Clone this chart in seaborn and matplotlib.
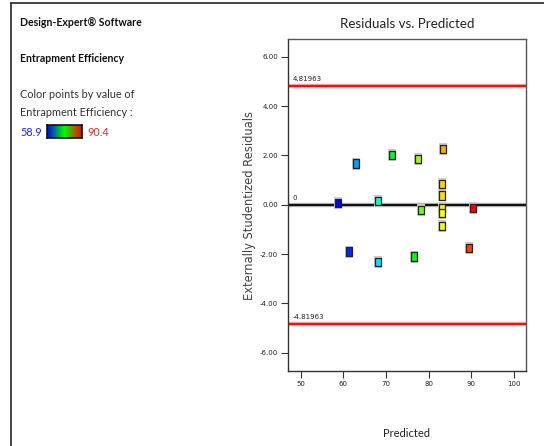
import numpy as np
import pandas as pd
import matplotlib
matplotlib.use("Agg")
import matplotlib.pyplot as plt
import matplotlib.colors as mcolors
from matplotlib.lines import Line2D
import seaborn as sns

# ---- data ----
predicted = [58.8, 61.3, 63.0, 68.1, 68.1, 71.5, 76.6, 77.6, 78.2, 83.3,
             83.1, 83.1, 83.1, 83.1, 83.1, 90.4, 89.4]
residuals = [0.08, -1.90, 1.67, 0.15, -2.32, 2.03, -2.10, 1.85, -0.20, 2.26,
             0.83, 0.38, -0.14, -0.34, -0.87, -0.12, -1.74]
actual = [59.0, 60.2, 63.8, 68.5, 66.0, 74.0, 74.5, 79.5, 78.0, 85.0,
          84.0, 83.6, 82.8, 82.6, 82.0, 90.4, 88.4]
limit_hi = 4.81963
limit_lo = -4.81963
color_min, color_max = 58.9, 90.4
x_ticks = [50, 60, 70, 80, 90, 100]
y_ticks = [-6, -4, -2, 0, 2, 4, 6]

df = pd.DataFrame({"Predicted": predicted, "Residual": residuals, "Actual": actual})

# points: blue -> cyan -> green -> yellow -> red (hue sweep)
hues = np.linspace(240 / 360, 0, 256)
rgb = mcolors.hsv_to_rgb(np.stack([hues, np.ones(256), np.ones(256)], axis=1))
cmap = mcolors.ListedColormap(rgb)
# legend bar: blue -> green -> red
bar_cmap = mcolors.LinearSegmentedColormap.from_list("bgr", ["#0000ff", "#00ff00", "#ff0000"])

sns.set_theme(style="white")
plt.rcParams["font.family"] = ["DejaVu Sans"]

fig = plt.figure(figsize=(5.44, 4.46), dpi=100)
ax = fig.add_axes([288 / 544, 75 / 446, 238 / 544, 332 / 446])

# limit lines and zero line
ax.axhline(limit_hi, color="#ffb0b0", lw=3.2, zorder=1)
ax.axhline(limit_hi, color="#ee1111", lw=1.6, zorder=2)
ax.axhline(limit_lo, color="#ffb0b0", lw=3.2, zorder=1)
ax.axhline(limit_lo, color="#ee1111", lw=1.6, zorder=2)
ax.axhline(0, color="#c0c0c0", lw=3.2, zorder=1)
ax.axhline(0, color="#111111", lw=1.6, zorder=2)

rect = [(-0.36, -0.5), (0.36, -0.5), (0.36, 0.5), (-0.36, 0.5), (-0.36, -0.5)]
# points with soft halo
sns.scatterplot(data=df, x="Predicted", y="Residual", color="#cccccc", marker=rect,
                s=70, linewidth=0, ax=ax, legend=False, zorder=3)
sns.scatterplot(data=df, x="Predicted", y="Residual", hue="Actual", palette=cmap,
                hue_norm=(color_min, color_max), marker=rect, s=36,
                edgecolor="#222222", linewidth=0.9, ax=ax, legend=False, zorder=4)

ax.set_xlim(47.0, 102.9)
ax.set_ylim(-6.74, 6.72)
ax.set_xticks(x_ticks)
ax.set_xticklabels([str(t) for t in x_ticks])
ax.set_yticks(y_ticks)
ax.set_yticklabels([f"{t:.2f}" for t in y_ticks])
ax.tick_params(axis="both", which="major", labelsize=5, length=5, width=0.8,
               color="#333333", pad=2, direction="out", left=True, bottom=True,
               labelcolor="#222222")
for s in ax.spines.values():
    s.set_color("#555555")
    s.set_linewidth(1.0)
ax.spines["left"].set_color("#333333")
ax.spines["bottom"].set_color("#333333")

ax.text(48.0, limit_hi + 0.15, "4.81963", fontsize=5, color="#222222", va="bottom")
ax.text(48.0, 0.15, "0", fontsize=5, color="#222222", va="bottom")
ax.text(48.0, limit_lo + 0.15, "-4.81963", fontsize=5, color="#222222", va="bottom")

ax.set_title("Residuals vs. Predicted", fontsize=9.6, family="Lato",
             color="#222222", pad=8)
ax.set_xlabel("Predicted", fontsize=8, family="Lato", color="#222222", labelpad=30)
ax.set_ylabel("Externally Studentized Residuals", fontsize=8.3, color="#444444",
              labelpad=3)

# left info panel
fig.text(20 / 544, 1 - 23 / 446, "Design-Expert\u00ae Software", fontsize=7.6,
         weight="bold", family="Lato", va="center", ha="left", color="#111111")
fig.text(20 / 544, 1 - 59 / 446, "Entrapment Efficiency", fontsize=7.6,
         weight="bold", family="Lato", va="center", ha="left", color="#111111")
fig.text(20 / 544, 1 - 94 / 446, "Color points by value of", fontsize=7.8,
         family="Lato", va="center", ha="left", color="#333333")
fig.text(20 / 544, 1 - 112 / 446, "Entrapment Efficiency :", fontsize=7.8,
         family="Lato", va="center", ha="left", color="#333333")
fig.text(42 / 544, 1 - 132 / 446, f"{color_min}", fontsize=7.8, family="Lato",
         va="center", ha="right", color="#2222ee")
fig.text(87 / 544, 1 - 132 / 446, f"{color_max}", fontsize=7.8, family="Lato",
         va="center", ha="left", color="#ee2222")
cax = fig.add_axes([47 / 544, 1 - 138 / 446, 35 / 544, 13 / 446])
cax.imshow(np.linspace(0, 1, 256)[None, :], aspect="auto", cmap=bar_cmap)
cax.set_xticks([])
cax.set_yticks([])
for s in cax.spines.values():
    s.set_color("#111111")
    s.set_linewidth(1.2)

# outer frame lines
fig.add_artist(Line2D([11 / 544, 11 / 544], [0, 1 - 3 / 446], color="#222222", lw=1.2))
fig.add_artist(Line2D([11 / 544, 1], [1 - 3 / 446, 1 - 3 / 446], color="#222222", lw=1.2))

fig.savefig("out.png", dpi=100)
